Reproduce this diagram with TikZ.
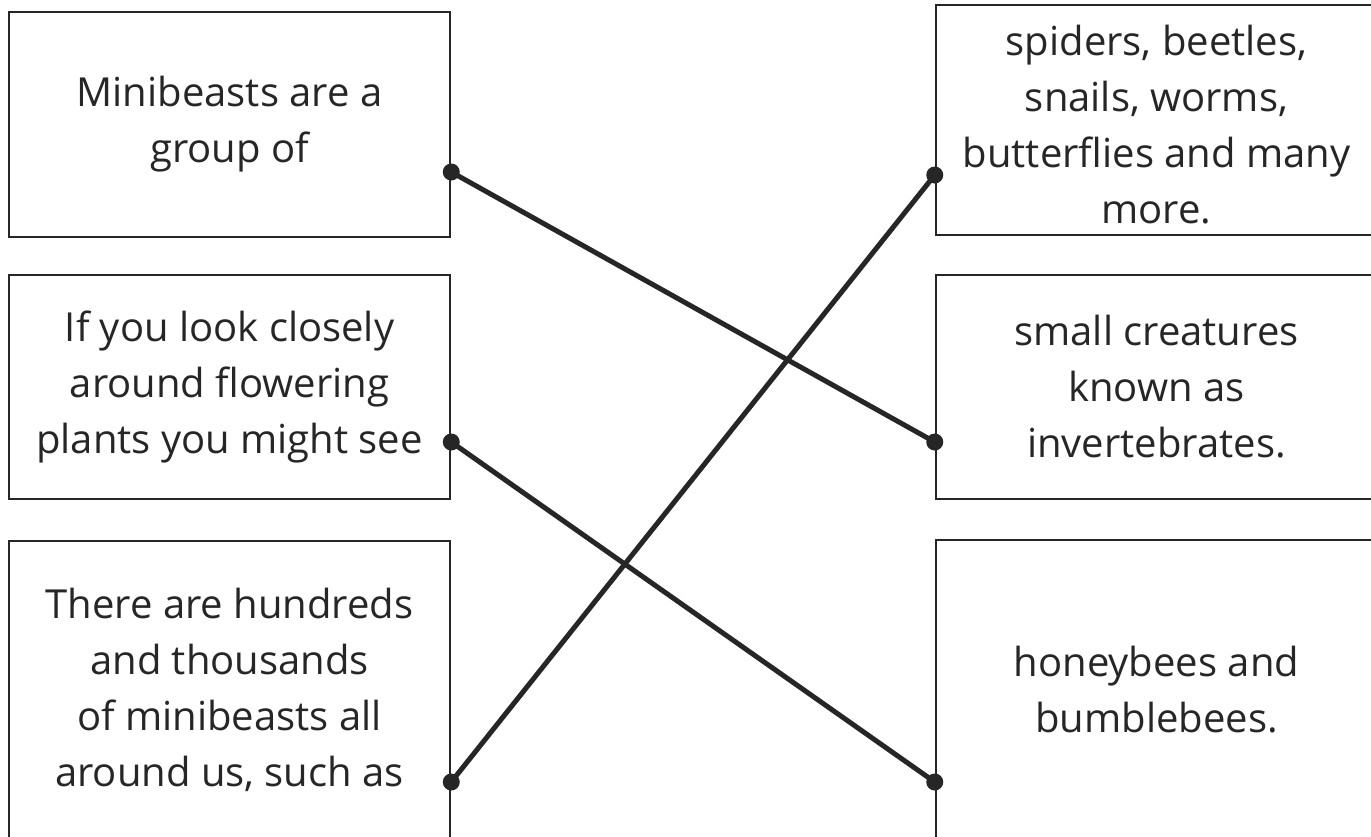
\documentclass[tikz,border=0pt]{standalone}
\usepackage{fontspec}
\setmainfont{Open Sans}
\definecolor{ink}{HTML}{262626}
\tikzset{
  cardtext/.style={align=center, inner sep=0pt, font=\fontsize{40}{56}\selectfont, text=ink},
  card/.style={cardtext, draw=ink, line width=2.5pt, rectangle, minimum width=441pt},
  link/.style={draw=ink, line width=5pt},
  dot/.style={fill=ink}
}
\begin{document}
\begin{tikzpicture}[x=1pt,y=-1pt]
\useasboundingbox (0,0) rectangle (1371,836);
\clip (0,0) rectangle (1371,836);
\fill[white] (0,0) rectangle (1371,836);
% left cards
\node[card, minimum height=225pt] (L1) at (229.5,124.5) {Minibeasts are a\\group of};
\node[card, minimum height=224pt] (L2) at (229.5,387) {If you look closely\\around flowering\\plants you might see};
\node[card, minimum height=298pt] (L3) at (229.5,690) {There are hundreds\\and thousands\\of minibeasts all\\around us, such as};
% right cards
\node[card, minimum height=230pt] (R1) at (1156.5,120) {};
\node[cardtext] (R1t) at (1156.5,125) {spiders, beetles,\\snails, worms,\\butterflies and many\\more.};
\node[card, minimum height=224pt] (R2) at (1156.5,387) {small creatures\\known as\\invertebrates.};
\node[card, minimum height=300pt] (R3) at (1156.5,690) {honeybees and\\bumblebees.};
% connector ends
\coordinate (a1) at (L1.east |- 0,172);
\coordinate (a2) at (L2.east |- 0,442);
\coordinate (a3) at (L3.east |- 0,782);
\coordinate (b1) at (R1.west |- 0,175);
\coordinate (b2) at (R2.west |- 0,442);
\coordinate (b3) at (R3.west |- 0,782);
\draw[link] (a1) -- (b2);
\draw[link] (a2) -- (b3);
\draw[link] (a3) -- (b1);
\foreach \p in {a1,a2,a3,b1,b2,b3} \fill[dot] (\p) circle (8.5);
\end{tikzpicture}
\end{document}
